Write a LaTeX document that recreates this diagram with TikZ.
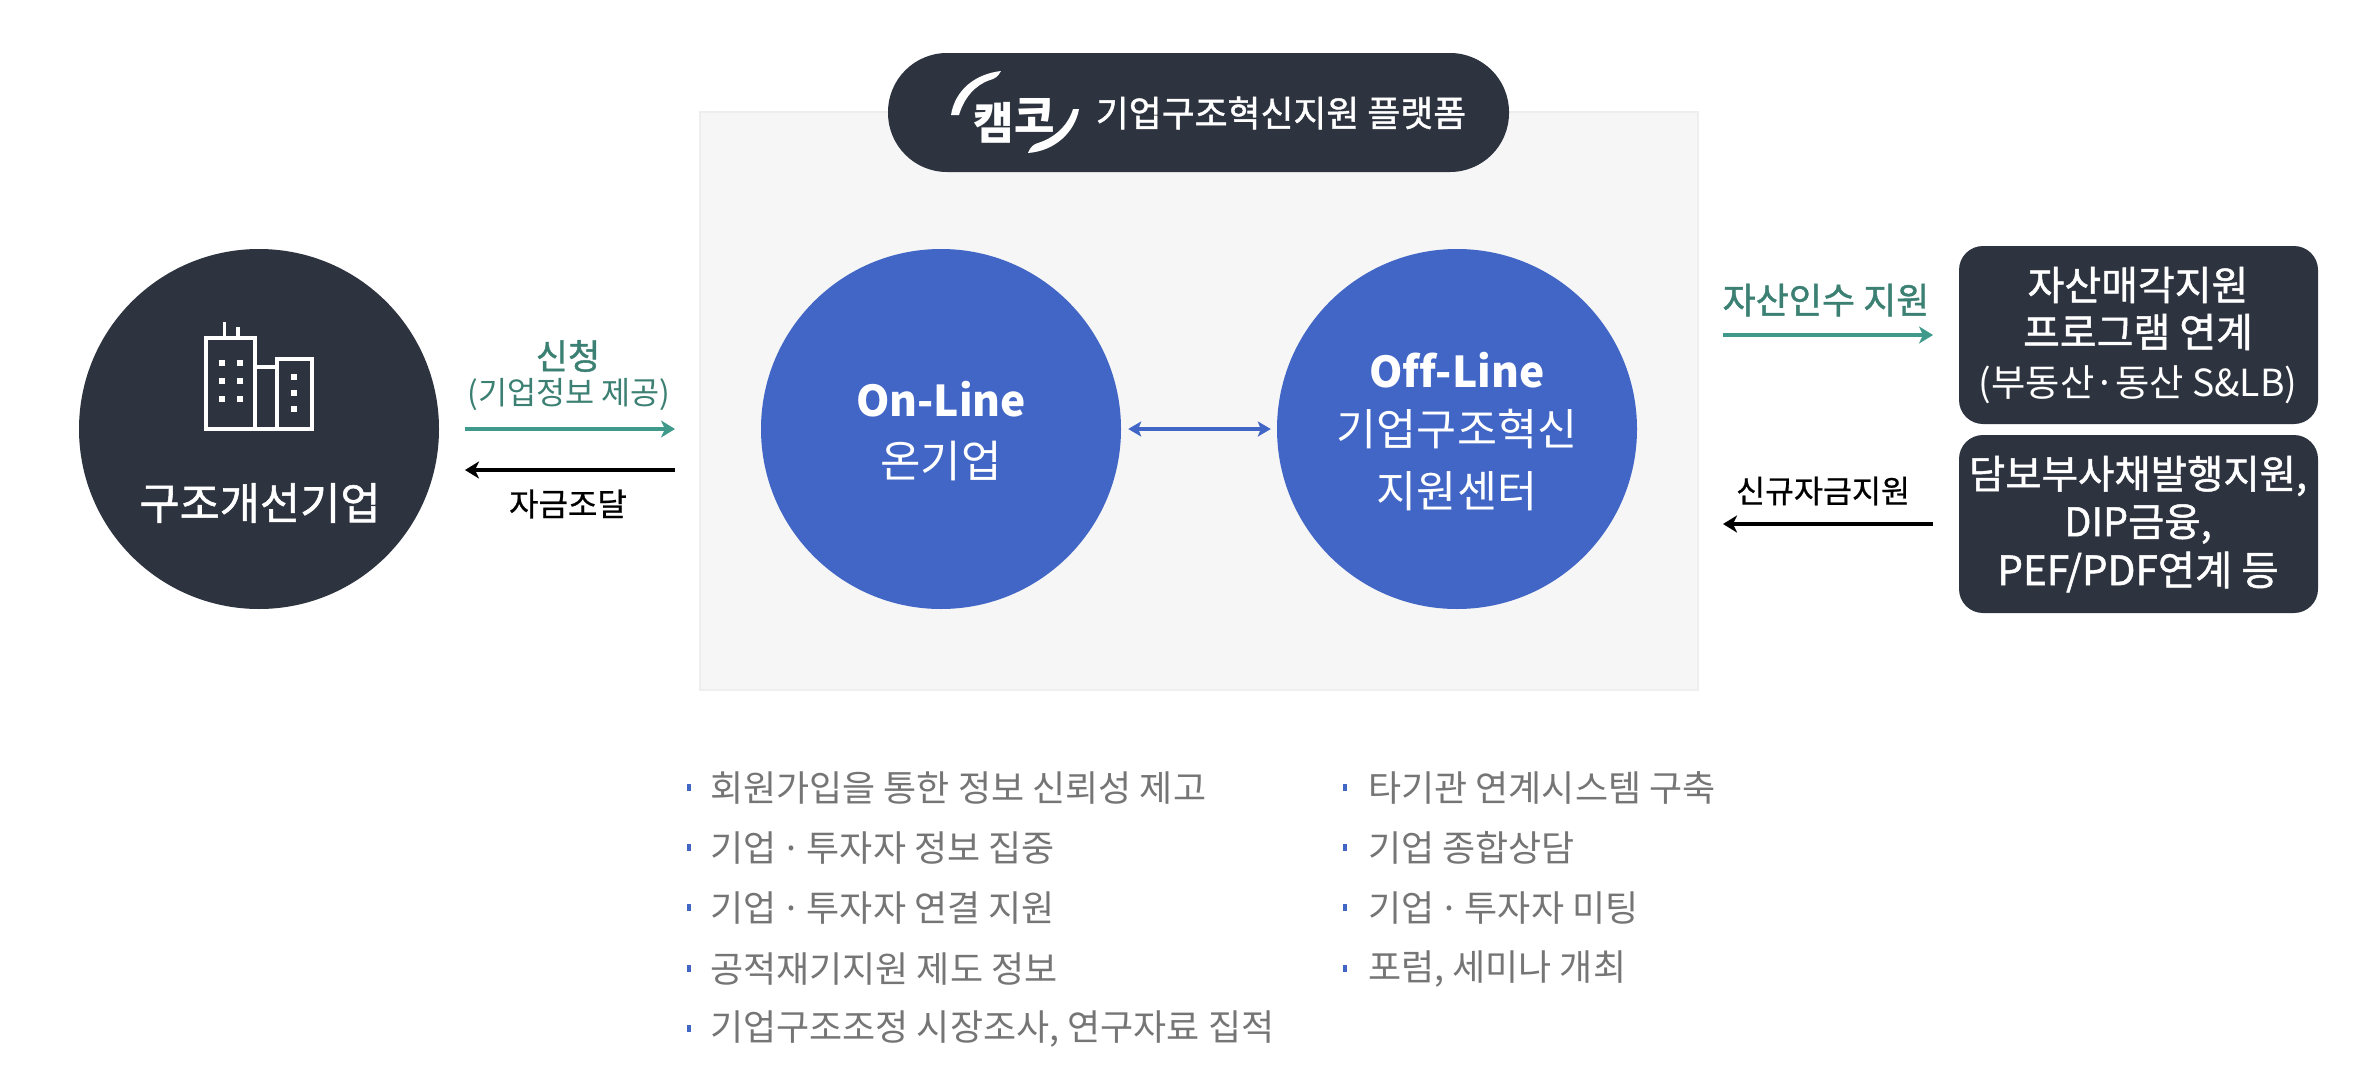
\documentclass[tikz,border=0pt]{standalone}
\usepackage{fontspec}
\setmainfont{Noto Sans CJK KR}
\newfontfamily\medf[FakeBold=1.2]{Noto Sans CJK KR}
\newfontfamily\semif[FakeBold=0.7]{Noto Sans CJK KR}
\usetikzlibrary{arrows.meta}
\definecolor{dark}{HTML}{2E343F}
\definecolor{blueC}{HTML}{4166C6}
\definecolor{greenC}{HTML}{3F9A8B}
\definecolor{greenT}{HTML}{3B8072}
\definecolor{panel}{HTML}{F6F6F6}
\definecolor{panelE}{HTML}{EEEEEE}
\definecolor{greyT}{HTML}{757575}
\newcommand{\fs}[1]{\fontsize{#1}{#1}\selectfont}
\newcommand{\tdot}{\kern-3pt·\kern-3pt}
\tikzset{
  lbl/.style={inner sep=0pt,anchor=center},
  disc/.style={circle,minimum size=360pt,inner sep=0pt,fill=#1},
  dbox/.style={rounded corners=24pt,fill=dark,inner sep=0pt,minimum width=359pt,minimum height=178pt},
  gline/.style={draw=greenC,line width=3.5pt,-{Stealth[length=14pt,width=17pt,inset=4pt]}},
  kline/.style={draw=black,line width=3.5pt,-{Stealth[length=14pt,width=17pt,inset=4pt]}},
  bline/.style={draw=blueC,line width=3.5pt,{Stealth[length=13pt,width=15pt,inset=3pt]}-{Stealth[length=13pt,width=15pt,inset=3pt]}},
  bul/.style={fill=blueC,inner sep=0pt,minimum width=4.5pt,minimum height=7pt},
  item/.style={inner sep=0pt,anchor=west,text=greyT,font=\fs{36}},
  ico/.style={draw=white,line width=3.5pt},
  win/.style={fill=white,inner sep=0pt,minimum size=6.5pt}
}
\begin{document}
\begin{tikzpicture}[x=1pt,y=-1pt]
\useasboundingbox[fill=white] (0,0) rectangle (2368,1076);
% panel
\node[draw=panelE,line width=2pt,fill=panel,inner sep=0pt,minimum width=998pt,minimum height=578pt] (panelbox) at (1199,401) {};
% title pill
\node[fill=dark,rounded corners=59pt,inner sep=0pt,minimum width=621pt,minimum height=119pt] (pill) at (1198.5,112.5) {};
\fill[white] (951,115) .. controls (955,90) and (975,74) .. (1001,71) .. controls (998,77) and (994,79) .. (990,80) .. controls (975,85) and (964,98) .. (959,115) -- cycle;
\fill[white] (1079,109) .. controls (1075,132) and (1055,151) .. (1028,153) .. controls (1030,147) and (1034,144) .. (1038,143) .. controls (1054,138) and (1068,126) .. (1073,109) -- cycle;
\node[lbl,text=white,font=\bfseries\fs{44}] (logo) at (1014,121) {캠\raisebox{7pt}{코}};
\node[lbl,text=white,font=\medf\fs{35.8}] (pilltext) at (1281,113) {기업구조혁신지원 플랫폼};
% left
\node[disc=dark] (comp) at (259,429) {};
\draw[ico] (206,429) rectangle (255,338);
\draw[ico] (277,429) rectangle (312,359);
\draw[ico] (255,429) -- (277,429) (255,367) -- (277,367);
\draw[ico] (224.5,338) -- (224.5,322) (238,338) -- (238,327);
\foreach \wx in {222,240}\foreach \wy in {363,381,399}\node[win] at (\wx,\wy) {};
\foreach \wy in {377,393,409}\node[win] at (294,\wy) {};
\node[lbl,text=white,font=\medf\fs{43.7}] (compt) at (260,503) {구조개선기업};
% circles
\node[disc=blueC] (on) at (941,429) {};
\node[disc=blueC] (off) at (1457,429) {};
\node[lbl,text=white,font=\bfseries\fs{42.5}] (ont1) at (941,399) {On-Line};
\node[lbl,text=white,font=\fs{44}] (ont2) at (941,461) {온기업};
\node[lbl,text=white,font=\bfseries\fs{42.5}] (offt1) at (1457,370) {Of\kern0ptf-Line};
\node[lbl,text=white,font=\fs{43.5}] (offt2) at (1457,429) {기업구조혁신};
\node[lbl,text=white,font=\fs{43.5}] (offt3) at (1457,491) {지원센터};
\draw[bline,shorten <=7pt,shorten >=6pt] (on) -- (off);
% left arrows
\coordinate (a1s) at (465,429); \coordinate (a1e) at (675,429);
\coordinate (a2s) at (675,470); \coordinate (a2e) at (465,470);
\draw[gline] (a1s) -- (a1e);
\draw[kline] (a2s) -- (a2e);
\node[lbl,text=greenT,font=\medf\fs{35}] (l1) at (568,356) {신청};
\node[lbl,text=greenT,font=\fs{31.6}] (l2) at (569,395) {(기업정보 제공)};
\node[lbl,text=black,font=\semif\fs{32}] (l3) at (568,504) {자금조달};
% right boxes
\node[dbox] (b1) at (2138.5,335) {};
\node[dbox] (b2) at (2138.5,524) {};
\node[lbl,text=white,font=\medf\fs{40}] (b1a) at (2138,285) {자산매각지원};
\node[lbl,text=white,font=\medf\fs{40}] (b1b) at (2138,332) {프로그램 연계};
\node[lbl,text=white,font=\fs{37.3}] (b1c) at (2138,385) {(부동산·동산 S\&LB)};
\node[lbl,text=white,font=\medf\fs{39.5}] (b2a) at (2138,476) {담보부사채발행지원,};
\node[lbl,text=white,font=\medf\fs{39.5}] (b2b) at (2138,524) {DIP금융,};
\node[lbl,text=white,font=\medf\fs{40.5}] (b2c) at (2138,572) {PEF/PDF연계 등};
% right arrows
\coordinate (a3s) at (1723,335); \coordinate (a3e) at (1933,335);
\coordinate (a4s) at (1933,524); \coordinate (a4e) at (1723,524);
\draw[gline] (a3s) -- (a3e);
\draw[kline] (a4s) -- (a4e);
\node[lbl,text=greenT,font=\medf\fs{36}] (r1) at (1826,300) {자산인수 지원};
\node[lbl,text=black,font=\semif\fs{31.5}] (r2) at (1823,491) {신규자금지원};
% lists
\node[bul] (d1) at (689,787) {};
\node[bul] (d2) at (689,847) {};
\node[bul] (d3) at (689,907) {};
\node[bul] (d4) at (689,968) {};
\node[bul] (d5) at (689,1028) {};
\node[bul] (e1) at (1345,787) {};
\node[bul] (e2) at (1345,847) {};
\node[bul] (e3) at (1345,907) {};
\node[bul] (e4) at (1345,968) {};
\node[item] (t1) at (710,788) {회원가입을 통한 정보 신뢰성 제고};
\node[item] (t2) at (710,848) {기업 \tdot{} 투자자 정보 집중};
\node[item] (t3) at (710,908) {기업 \tdot{} 투자자 연결 지원};
\node[item] (t4) at (710,969) {공적재기지원 제도 정보};
\node[item] (t5) at (710,1029) {기업구조조정 시장조사, 연구자료 집적};
\node[item] (u1) at (1368,788) {타기관 연계시스템 구축};
\node[item] (u2) at (1368,848) {기업 종합상담};
\node[item] (u3) at (1368,908) {기업 \tdot{} 투자자 미팅};
\node[item] (u4) at (1368,969) {포럼, 세미나 개최};
\end{tikzpicture}
\end{document}
